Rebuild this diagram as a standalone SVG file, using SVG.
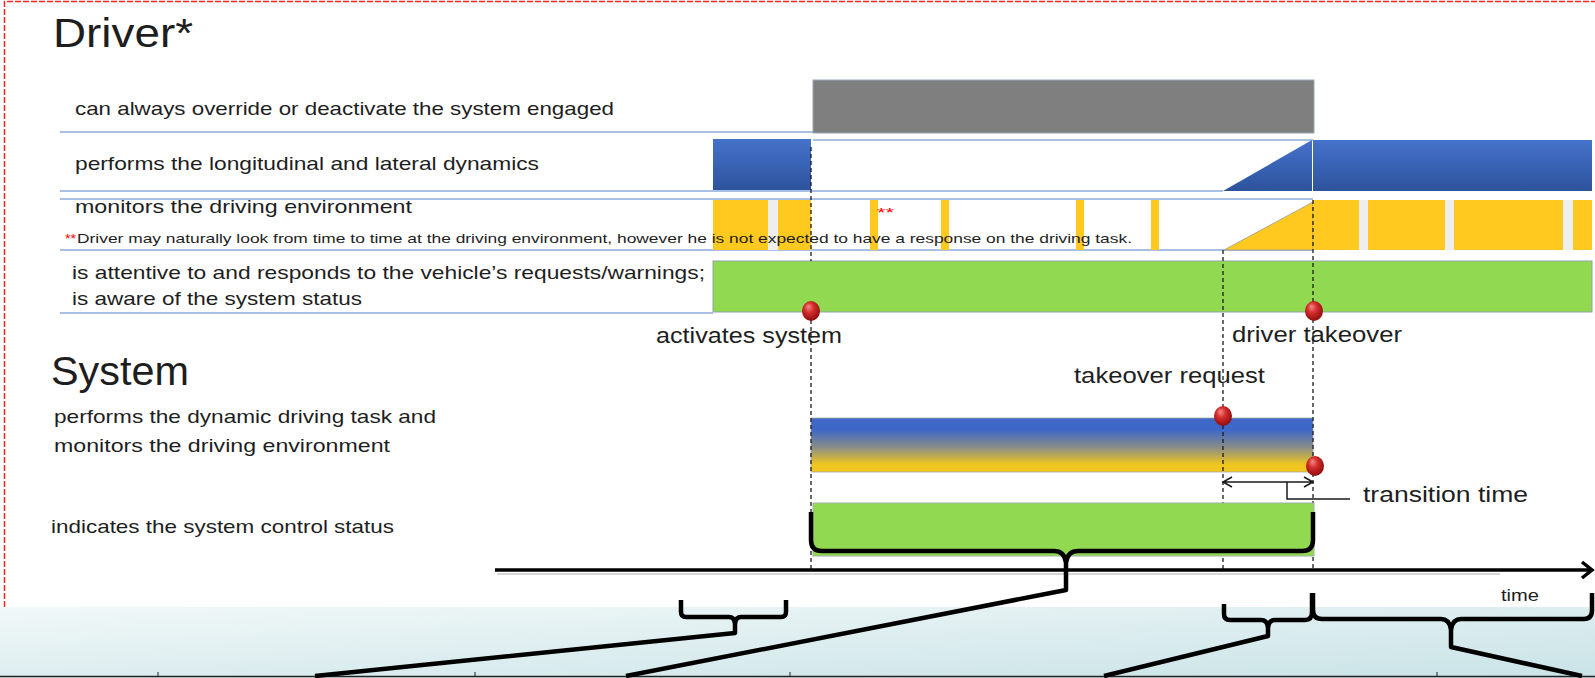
<svg xmlns="http://www.w3.org/2000/svg" width="1595" height="678" viewBox="0 0 1595 678">
<defs>
<linearGradient id="gBlue" x1="0" y1="0" x2="0" y2="1"><stop offset="0" stop-color="#4572CB"/><stop offset="1" stop-color="#2D539C"/></linearGradient>
<linearGradient id="gSys" x1="0" y1="0" x2="0" y2="1"><stop offset="0" stop-color="#3E67C7"/><stop offset="0.22" stop-color="#3E67C7"/><stop offset="0.55" stop-color="#8B8E86"/><stop offset="0.85" stop-color="#EDC523"/><stop offset="1" stop-color="#F4C61B"/></linearGradient>
<linearGradient id="gTeal" x1="0" y1="0" x2="1" y2="1"><stop offset="0" stop-color="#F1F8F8"/><stop offset="1" stop-color="#C9E3E7"/></linearGradient>
<radialGradient id="gDot" cx="0.45" cy="0.4" r="0.6" fx="0.35" fy="0.28"><stop offset="0" stop-color="#F58A8A"/><stop offset="0.45" stop-color="#D42C2C"/><stop offset="1" stop-color="#8E0E0E"/></radialGradient>
<style>
.t{font-family:"Liberation Sans",Arial,sans-serif;fill:#1e1e1e}
.red{fill:#FF0000}
.sep{stroke:#8FAADC;stroke-width:1.5;fill:none}
.dash{stroke:#1a1a1a;stroke-width:1.3;stroke-dasharray:4,3;fill:none}
.brace{stroke:#000;stroke-width:4.5;fill:none;stroke-linejoin:round;stroke-linecap:butt}
.yel{fill:#FFC91F}
.gap{fill:#EEEEEE}
.dot{fill:url(#gDot)}
.thin{stroke:#1a1a1a;stroke-width:1.5;fill:none}
</style>
</defs>
<rect width="1595" height="678" fill="#fff"/>
<rect x="0" y="607" width="1595" height="71" fill="url(#gTeal)"/>
<path d="M4.5,607 V1.5 H1595" stroke="#FF2222" stroke-width="1.5" stroke-dasharray="6,2" fill="none"/>

<g id="titles">
<text class="t" x="53" y="47" font-size="41" textLength="140" lengthAdjust="spacingAndGlyphs">Driver*</text>
<text class="t" x="51" y="385" font-size="41" textLength="138" lengthAdjust="spacingAndGlyphs">System</text>
</g>

<g id="driver-labels">
<text class="t" x="75" y="115" font-size="19" textLength="539" lengthAdjust="spacingAndGlyphs">can always override or deactivate the system engaged</text>
<text class="t" x="75" y="170" font-size="19" textLength="464" lengthAdjust="spacingAndGlyphs">performs the longitudinal and lateral dynamics</text>
<text class="t" x="75" y="213" font-size="19" textLength="337" lengthAdjust="spacingAndGlyphs">monitors the driving environment</text>
<text class="t" x="72" y="279" font-size="19" textLength="633" lengthAdjust="spacingAndGlyphs">is attentive to and responds to the vehicle’s requests/warnings;</text>
<text class="t" x="72" y="305" font-size="19" textLength="290" lengthAdjust="spacingAndGlyphs">is aware of the system status</text>
</g>

<g id="row-lines">
<path class="sep" d="M60,132 H813 M813,140 H1313 M60,191 H1223 M60,199 H1313 M60,250 H1313 M60,313 H713"/>
</g>

<g id="row-override">
<rect x="813" y="80" width="501" height="53" fill="#7F7F7F" stroke="#9AA6B2" stroke-width="1"/>
</g>

<g id="row-dynamics">
<rect x="713" y="139" width="98" height="51" fill="url(#gBlue)"/>
<polygon points="1223,191 1312,140 1312,191" fill="url(#gBlue)"/>
<rect x="1313" y="140" width="279" height="51" fill="url(#gBlue)"/>
</g>

<g id="row-monitor">
<rect class="yel" x="713" y="200" width="55" height="50"/>
<rect class="gap" x="768" y="200" width="10" height="50"/>
<rect class="yel" x="778" y="200" width="33" height="50"/>
<rect class="yel" x="870" y="200" width="8" height="50"/>
<rect class="yel" x="941" y="200" width="8" height="50"/>
<rect class="yel" x="1076" y="200" width="8" height="50"/>
<rect class="yel" x="1151" y="200" width="8" height="50"/>
<text class="t red" x="877" y="217" font-size="13" textLength="17" lengthAdjust="spacingAndGlyphs">**</text>
<polygon points="1224,250 1313,202 1313,250" fill="#FFC91F" stroke="#9a9a9a" stroke-width="0.8"/>
<rect class="yel" x="1313" y="200" width="46" height="50"/>
<rect class="gap" x="1359" y="200" width="9" height="50"/>
<rect class="yel" x="1368" y="200" width="77" height="50"/>
<rect class="gap" x="1445" y="200" width="9" height="50"/>
<rect class="yel" x="1454" y="200" width="109" height="50"/>
<rect class="gap" x="1563" y="200" width="10" height="50"/>
<rect class="yel" x="1573" y="200" width="19" height="50"/>
</g>

<g id="footnote">
<text class="t red" x="65" y="243" font-size="13" textLength="11" lengthAdjust="spacingAndGlyphs">**</text>
<text class="t" x="77" y="243" font-size="13" textLength="1055" lengthAdjust="spacingAndGlyphs">Driver may naturally look from time to time at the driving environment, however he is not expected to have a response on the driving task.</text>
</g>

<g id="row-attentive">
<rect x="713" y="261" width="879" height="51" fill="#92D952" stroke="#8FA3A8" stroke-width="1"/>
</g>

<g id="system-labels">
<text class="t" x="54" y="423" font-size="18.5" textLength="382" lengthAdjust="spacingAndGlyphs">performs the dynamic driving task and</text>
<text class="t" x="54" y="452" font-size="18.5" textLength="336" lengthAdjust="spacingAndGlyphs">monitors the driving environment</text>
<text class="t" x="51" y="533" font-size="18.5" textLength="343" lengthAdjust="spacingAndGlyphs">indicates the system control status</text>
</g>

<g id="system-ddt">
<rect x="811" y="418" width="502" height="54" fill="url(#gSys)" stroke="#A8A8A8" stroke-width="0.8"/>
</g>

<g id="connectors">
<path class="dash" d="M811,147 V261 M811,313 V570 M1223,250 V570 M1313,200 V570"/>
<path d="M497,574 H1500" stroke="#BDBDBD" stroke-width="2" opacity="0.6"/>
<path d="M495,570 H1590" stroke="#000" stroke-width="3.5"/>
<polyline points="1582,562 1592,570 1582,578" stroke="#000" stroke-width="3.5" fill="none" stroke-linejoin="miter"/>
<path class="thin" d="M1223,482 H1313 M1232,477 L1223,482 L1232,487 M1304,477 L1313,482 L1304,487"/>
<path class="thin" d="M1287,482 V499 H1350"/>
<path d="M0,676.5 H1595" stroke="#222" stroke-width="1.5"/>
<path d="M158,672 V677 M475,672 V677 M790,672 V677 M1113,672 V677 M1437,672 V677" stroke="#222" stroke-width="1"/>
</g>

<g id="system-status">
<rect x="813" y="503" width="501" height="53" fill="#92D952" stroke="#A0B0A8" stroke-width="1"/>
</g>

<g id="braces">
<path class="brace" d="M811,512 V540 Q811,551 822,551 H1054 Q1064,551 1066,562 Q1068,551 1078,551 H1302 Q1313,551 1313,540 V512"/>
<path class="brace" d="M1066,558 V590 L626,676"/>
<path class="brace" d="M681,600 V612 Q681,617 686,617 H729 Q734,617 735,623 Q736,617 741,617 H781 Q786,617 786,612 V600"/>
<path class="brace" d="M735,620 V633 L315,676"/>
<path class="brace" d="M1224,604 V614 Q1224,620 1230,620 H1261 Q1267,620 1268,627 Q1269,620 1275,620 H1305 Q1312,620 1312,612 V593"/>
<path class="brace" d="M1268,624 V636 L1104,676"/>
<path class="brace" d="M1313,593 V610 Q1313,619 1322,619 H1441 Q1449,619 1451,629 Q1453,619 1461,619 H1584 Q1592,619 1592,610 V593"/>
<path class="brace" d="M1451,626 V647 L1582,676"/>
</g>

<g id="events">
<text class="t" x="656" y="343" font-size="22" textLength="186" lengthAdjust="spacingAndGlyphs">activates system</text>
<text class="t" x="1232" y="342" font-size="22" textLength="170" lengthAdjust="spacingAndGlyphs">driver takeover</text>
<text class="t" x="1074" y="383" font-size="22" textLength="191" lengthAdjust="spacingAndGlyphs">takeover request</text>
<text class="t" x="1363" y="502" font-size="22" textLength="165" lengthAdjust="spacingAndGlyphs">transition time</text>
<text class="t" x="1501" y="601" font-size="16.5" textLength="38" lengthAdjust="spacingAndGlyphs">time</text>
<ellipse class="dot" cx="811" cy="311" rx="9" ry="10"/>
<ellipse class="dot" cx="1314" cy="311" rx="9" ry="10"/>
<ellipse class="dot" cx="1223" cy="416" rx="9" ry="10"/>
<ellipse class="dot" cx="1315" cy="466" rx="9" ry="10"/>
</g>
</svg>
